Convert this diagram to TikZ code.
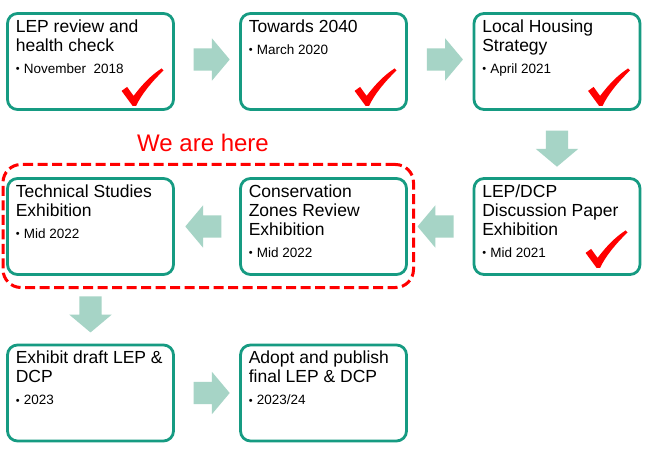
\documentclass[tikz,border=0pt]{standalone}
\usepackage{fontspec}
\setmainfont{Liberation Sans}
\usetikzlibrary{shapes.arrows,calc}
\definecolor{boxteal}{RGB}{22,155,130}
\definecolor{arrowfill}{RGB}{166,212,198}
\definecolor{checkred}{RGB}{255,0,0}
\newcommand{\bul}{\makebox[8pt][l]{\fontsize{11}{11}\selectfont\raisebox{0.3pt}{•}}}
\begin{document}
\begin{tikzpicture}[x=1pt,y=-1pt,
  stagebox/.style={draw=boxteal, line width=2.8pt, rounded corners=10pt, minimum width=166pt, minimum height=96pt, inner sep=0pt, fill=white},
  ttl/.style={anchor=north west, align=left, inner sep=0pt, font=\fontsize{17.5}{19}\selectfont},
  bultext/.style={anchor=base west, inner sep=0pt, font=\fontsize{13.5}{15}\selectfont},
  blockarrow/.style={single arrow, fill=arrowfill, draw=none, minimum height=36pt, inner xsep=0pt, inner ysep=11pt, single arrow head extend=10pt, single arrow tip angle=100},
  herebox/.style={draw=checkred, line width=3pt, dash pattern=on 10pt off 4.5pt, rounded corners=18pt, inner sep=0pt},
  tick/.pic={\fill[checkred] (-12,-15) -- (-6.5,-19) -- (0,-10) .. controls (9,-22) and (18,-31) .. (28,-37.5) -- (30,-35.5) .. controls (19,-25) and (8,-12) .. (2.5,0) -- (-1,0) -- cycle;}
]
\useasboundingbox (0,0) rectangle (649,452);
\fill[white] (0,0) rectangle (649,452);

% dashed "we are here" frame
\node[herebox, minimum width=410.5pt, minimum height=123pt] (here) at (208.25,226) {};
\node[anchor=base west, inner sep=0pt, text=checkred, font=\fontsize{24}{28}\selectfont] (lbl) at (137,152) {We are here};

% boxes
\node[stagebox] (b1) at (90.5,61.5) {};
\node[stagebox] (b2) at (323.5,61.5) {};
\node[stagebox] (b3) at (557,61.5) {};
\node[stagebox] (b4) at (557,226.5) {};
\node[stagebox] (b5) at (323.5,226.5) {};
\node[stagebox] (b6) at (90.5,226.5) {};
\node[stagebox] (b7) at (90.5,393) {};
\node[stagebox] (b8) at (323.5,393) {};

% titles
\node[ttl] (t1) at ($(b1.north west)+(9.5,7)$) {\rule{0pt}{13pt}LEP review and\\health check};
\node[ttl] (t2) at ($(b2.north west)+(9.5,7)$) {\rule{0pt}{13pt}Towards 2040};
\node[ttl] (t3) at ($(b3.north west)+(9.5,7)$) {\rule{0pt}{13pt}Local Housing\\Strategy};
\node[ttl] (t4) at ($(b4.north west)+(9.5,7)$) {\rule{0pt}{13pt}LEP/DCP\\Discussion Paper\\Exhibition};
\node[ttl] (t5) at ($(b5.north west)+(9.5,7)$) {\rule{0pt}{13pt}Conservation\\Zones Review\\Exhibition};
\node[ttl] (t6) at ($(b6.north west)+(9.5,7)$) {\rule{0pt}{13pt}Technical Studies\\Exhibition};
\node[ttl] (t7) at ($(b7.north west)+(9.5,7)$) {\rule{0pt}{13pt}Exhibit draft LEP \&\\DCP};
\node[ttl] (t8) at ($(b8.north west)+(9.5,7)$) {\rule{0pt}{13pt}Adopt and publish\\final LEP \& DCP};

% bullets
\node[bultext] (d1) at ($(b1.north west)+(9.5,61)$) {\bul November\ \ 2018};
\node[bultext] (d2) at ($(b2.north west)+(9.5,42)$) {\bul March 2020};
\node[bultext] (d3) at ($(b3.north west)+(9.5,61)$) {\bul April 2021};
\node[bultext] (d4) at ($(b4.north west)+(9.5,80)$) {\bul Mid 2021};
\node[bultext] (d5) at ($(b5.north west)+(9.5,80)$) {\bul Mid 2022};
\node[bultext] (d6) at ($(b6.north west)+(9.5,61)$) {\bul Mid 2022};
\node[bultext] (d7) at ($(b7.north west)+(9.5,61)$) {\bul 2023};
\node[bultext] (d8) at ($(b8.north west)+(9.5,61)$) {\bul 2023/24};

% ticks
\pic at ($(b1.south west)+(127.5,-5)$) {tick};
\pic at ($(b2.south west)+(127.5,-5)$) {tick};
\pic at ($(b3.south west)+(127.5,-5)$) {tick};
\pic at ($(b4.south west)+(125,-8)$) {tick};

% block arrows
\node[blockarrow] (a12) at ($(b1.east)!0.5!(b2.west)+(0,-2)$) {};
\node[blockarrow] (a23) at ($(b2.east)!0.5!(b3.west)+(0,-2)$) {};
\node[blockarrow, rotate=-90] (a34) at ($(b3.south)!0.5!(b4.north)$) {};
\node[blockarrow, rotate=180] (a45) at ($(b4.west)!0.5!(b5.east)$) {};
\node[blockarrow, rotate=180] (a56) at ($(b5.west)!0.5!(b6.east)+(1,0)$) {};
\node[blockarrow, rotate=-90] (a67) at ($(b6.south)!0.5!(b7.north)$) {};
\node[blockarrow] (a78) at ($(b7.east)!0.5!(b8.west)$) {};
\end{tikzpicture}
\end{document}
